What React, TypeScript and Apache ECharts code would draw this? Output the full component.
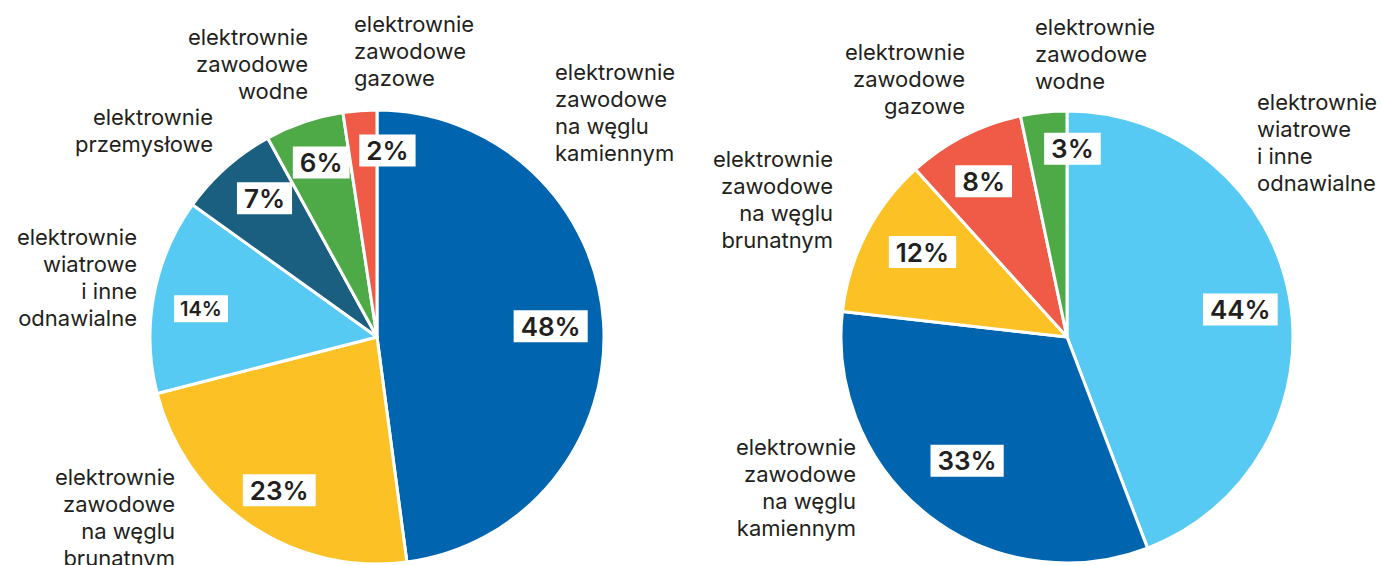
import React, { useEffect, useRef } from "react";
import * as echarts from "echarts";

// ---- data ----
const leftCategories = [
  "elektrownie\nzawodowe\nna węglu\nkamiennym",
  "elektrownie\nzawodowe\nna węglu\nbrunatnym",
  "elektrownie\nwiatrowe\ni inne\nodnawialne",
  "elektrownie\nprzemysłowe",
  "elektrownie\nzawodowe\nwodne",
  "elektrownie\nzawodowe\ngazowe",
];
const leftValues = [47.9, 23.1, 13.9, 7.1, 5.6, 2.4];

const rightCategories = [
  "elektrownie\nwiatrowe\ni inne\nodnawialne",
  "elektrownie\nzawodowe\nna węglu\nkamiennym",
  "elektrownie\nzawodowe\nna węglu\nbrunatnym",
  "elektrownie\nzawodowe\ngazowe",
  "elektrownie\nzawodowe\nwodne",
];
const rightValues = [44.2, 32.6, 11.5, 8.4, 3.3];

// ---- styles / layout ----
const C = {
  darkBlue: "#0064AF",
  yellow: "#FCC125",
  lightBlue: "#57CAF4",
  teal: "#1B5F80",
  green: "#4DAA47",
  red: "#EF5B46",
};
const leftColors = [C.darkBlue, C.yellow, C.lightBlue, C.teal, C.green, C.red];
const rightColors = [C.lightBlue, C.darkBlue, C.yellow, C.red, C.green];

const TEXT = "#231F20";
const FONT = "Inter, 'Liberation Sans', Arial, sans-serif";

const leftLabelLayout = [
  { x: 555, y: 58, align: "left" },
  { x: 175, y: 463, align: "right" },
  { x: 137, y: 223, align: "right" },
  { x: 213, y: 103, align: "right" },
  { x: 308, y: 23, align: "right" },
  { x: 354, y: 10, align: "left" },
];
const rightLabelLayout = [
  { x: 1257, y: 88, align: "left" },
  { x: 856, y: 433, align: "right" },
  { x: 833, y: 145, align: "right" },
  { x: 965, y: 38, align: "right" },
  { x: 1035, y: 13, align: "left" },
];

// fine nudges of the percentage boxes (pixels)
const leftPctNudge = [[-6, 1], [3, 4], [1, 5], [7, -4], [2, -4], [24, -7]];
const rightPctNudge = [[-3, 5], [10, -18], [15, -3], [-2, 4], [24, -10]];

const leftSmallLabel = [false, false, true, false, false, false];
const rightSmallLabel = [false, false, false, false, false];

function pctLabel(small: boolean, offset: number[]) {
  return {
    show: true,
    position: "inside",
    offset,
    formatter: (p: any) => Math.round(p.value) + "%",
    color: TEXT,
    fontFamily: FONT,
    fontWeight: 600,
    fontSize: small ? 20 : 26,
    lineHeight: small ? 21 : 26,
    backgroundColor: "#ffffff",
    padding: small ? [3, 6] : [3, 7],
  };
}

function pieSeries(
  values: number[],
  names: string[],
  colors: string[],
  small: boolean[],
  nudge: number[][],
  center: number[],
  R: number
) {
  const base = names.map((n, i) => ({
    name: n,
    value: values[i],
    itemStyle: { color: colors[i] },
  }));
  return [
    {
      type: "pie",
      center,
      radius: [0, R],
      startAngle: 90,
      clockwise: true,
      silent: true,
      label: { show: false },
      labelLine: { show: false },
      itemStyle: { borderColor: "#ffffff", borderWidth: 3 },
      data: base,
    },
    {
      type: "pie",
      center,
      radius: [R * 0.56, R],
      startAngle: 90,
      clockwise: true,
      silent: true,
      avoidLabelOverlap: false,
      labelLayout: { hideOverlap: false },
      labelLine: { show: false },
      itemStyle: { color: "transparent", borderWidth: 0 },
      data: base.map((d, i) => ({
        name: d.name,
        value: d.value,
        itemStyle: { color: "transparent" },
        label: pctLabel(small[i], nudge[i]),
      })),
    },
  ];
}

function textGraphics(names: string[], layout: any[]) {
  return names.map((n, i) => ({
    type: "text",
    x: layout[i].x,
    y: layout[i].y,
    silent: true,
    style: {
      text: n,
      fill: TEXT,
      fontFamily: FONT,
      fontSize: 22,
      lineHeight: 27,
      align: layout[i].align,
      verticalAlign: "top",
    },
  }));
}

export default function App() {
  const ref = useRef<HTMLDivElement>(null);
  useEffect(() => {
    if (!ref.current) return;
    const chart = echarts.init(ref.current, null, { renderer: "svg" });
    chart.setOption({
      animation: false,
      backgroundColor: "#ffffff",
      series: [
        ...pieSeries(leftValues, leftCategories, leftColors, leftSmallLabel, leftPctNudge, [377, 337], 227),
        ...pieSeries(rightValues, rightCategories, rightColors, rightSmallLabel, rightPctNudge, [1067, 337], 226),
      ],
      graphic: [
        ...textGraphics(leftCategories, leftLabelLayout),
        ...textGraphics(rightCategories, rightLabelLayout),
      ],
    });
    return () => chart.dispose();
  }, []);
  return (
    <div
      ref={ref}
      style={{ position: "fixed", left: 0, top: 0, width: 1383, height: 565 }}
    />
  );
}
